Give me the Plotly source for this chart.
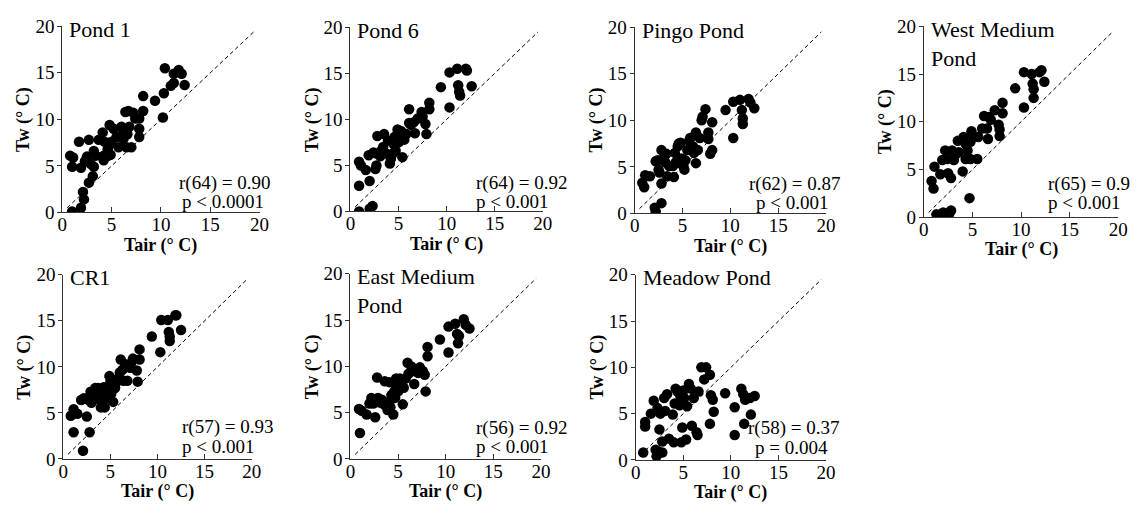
import plotly.graph_objects as go

W, H = 1145, 517

names = ["Pond 1", "Pond 6", "Pingo Pond", "West Medium<br>Pond", "CR1", "East Medium<br>Pond", "Meadow Pond"]
r_labels = ["r(64) = 0.90", "r(64) = 0.92", "r(62) = 0.87", "r(65) = 0.9", "r(57) = 0.93", "r(56) = 0.92", "r(58) = 0.37"]
p_labels = ["p < 0.0001", "p < 0.001", "p < 0.001", "p < 0.001", "p < 0.001", "p < 0.001", "p = 0.004"]
tick_vals = [0, 5, 10, 15, 20]
ref_line = [0.5, 19.5]

pond1_x = [1.0, 0.8, 1.1, 1.0, 1.7, 1.9, 2.1, 2.2, 1.9, 2.3, 2.7, 2.5, 2.7, 2.9, 3.2, 3.1, 3.2, 3.4, 3.7, 4.1,
           4.2, 4.2, 4.3, 4.6, 4.7, 4.8, 4.8, 5.0, 4.9, 5.2, 5.5, 5.7, 5.9, 6.0, 6.2, 6.4, 6.6, 6.5, 6.7, 6.8,
           7.0, 7.2, 7.4, 7.8, 7.8, 7.8, 8.2, 8.2, 9.4, 10.3, 10.4, 10.2, 11.0, 11.3, 11.3, 11.8, 12.1, 12.4]
pond1_y = [0.1, 6.1, 5.9, 4.9, 7.6, 4.8, 2.2, 1.4, 0.5, 5.5, 7.8, 6.0, 3.2, 5.2, 4.9, 3.9, 6.6, 6.1, 7.8, 8.6,
           6.1, 5.6, 7.6, 6.8, 6.1, 7.3, 9.4, 7.6, 6.2, 9.0, 8.1, 7.0, 8.2, 9.2, 7.9, 10.8, 8.4, 7.0, 10.9, 9.2,
           7.0, 10.7, 10.1, 10.1, 9.0, 8.1, 12.5, 10.9, 12.0, 12.8, 15.5, 10.2, 13.6, 13.9, 14.9, 15.3, 14.9, 13.7]

pond6_x = [0.9, 2.0, 2.3, 0.9, 0.9, 1.1, 1.6, 2.0, 1.9, 2.4, 2.6, 2.7, 2.7, 2.8, 3.1, 3.2, 3.4, 3.5, 3.7, 3.9,
           4.1, 4.2, 4.4, 4.5, 4.6, 4.7, 4.9, 5.0, 5.0, 5.3, 5.4, 5.6, 5.8, 6.1, 6.1, 6.3, 6.6, 6.7, 7.0, 7.4,
           7.5, 7.8, 7.9, 8.2, 8.2, 9.4, 10.3, 10.3, 11.1, 11.2, 11.3, 11.4, 12.0, 12.1, 12.6]
pond6_y = [0.0, 0.3, 0.6, 2.8, 5.4, 5.0, 4.5, 3.3, 6.1, 6.4, 4.6, 5.0, 6.3, 8.2, 6.0, 6.6, 7.0, 8.4, 6.3, 7.7,
           5.2, 5.7, 6.3, 7.3, 8.1, 6.6, 8.9, 7.5, 8.2, 8.7, 5.9, 7.8, 8.4, 9.6, 11.1, 9.4, 9.7, 8.5, 10.1, 10.8,
           10.3, 9.5, 8.4, 11.8, 11.1, 13.5, 15.1, 11.3, 15.5, 13.7, 13.0, 12.6, 15.5, 15.3, 13.6]

pingo_x = [0.8, 1.0, 1.1, 1.6, 2.1, 2.2, 2.2, 2.4, 2.5, 2.6, 2.8, 2.8, 2.8, 3.1, 3.2, 3.3, 3.4, 3.6, 4.0, 4.1,
           4.2, 4.3, 4.5, 4.6, 4.7, 4.8, 4.9, 5.1, 5.2, 5.3, 5.5, 5.7, 5.8, 6.0, 6.1, 6.2, 6.4, 6.4, 6.6, 6.8,
           7.0, 7.1, 7.4, 7.7, 7.7, 7.9, 8.1, 8.1, 9.5, 10.3, 10.3, 11.0, 11.2, 11.3, 11.3, 11.9, 12.1, 12.5]
pingo_y = [3.3, 2.8, 4.1, 4.0, 0.6, 0.2, 5.6, 5.7, 4.7, 4.4, 3.2, 1.1, 6.8, 6.1, 5.5, 6.4, 4.0, 5.1, 5.1, 3.9,
           6.5, 5.5, 7.2, 7.5, 5.4, 7.6, 5.9, 5.1, 4.7, 5.7, 6.8, 7.8, 8.1, 6.8, 7.2, 6.5, 5.4, 8.7, 6.8, 8.1,
           10.0, 10.4, 11.2, 8.7, 8.0, 6.4, 6.8, 9.8, 11.1, 8.1, 12.0, 12.2, 11.1, 10.2, 9.6, 12.3, 11.9, 11.3]

west_x = [0.8, 1.0, 1.1, 1.3, 1.5, 1.8, 2.0, 2.3, 2.6, 2.8, 1.7, 1.9, 2.2, 2.4, 2.5, 2.8, 2.9, 3.1, 3.3, 3.5,
          3.6, 4.0, 4.1, 4.3, 4.3, 4.5, 4.6, 4.7, 4.8, 4.9, 4.8, 5.1, 5.5, 5.6, 6.0, 6.2, 6.5, 6.6, 6.7, 6.9,
          7.3, 7.7, 7.8, 7.8, 8.1, 8.1, 9.4, 10.3, 10.3, 11.1, 11.2, 11.3, 11.3, 11.9, 12.1, 12.4]
west_y = [3.8, 3.0, 5.3, 0.3, 0.2, 0.3, 0.5, 0.3, 0.3, 0.7, 4.5, 6.0, 7.0, 6.1, 4.6, 4.1, 7.0, 6.0, 6.6, 8.0,
          6.8, 4.8, 8.4, 6.1, 7.7, 7.0, 8.1, 2.0, 7.9, 9.0, 6.1, 8.4, 6.1, 8.4, 9.3, 10.6, 9.3, 8.2, 10.5, 10.2,
          11.2, 9.7, 9.2, 8.5, 12.0, 10.9, 13.5, 15.2, 11.5, 15.0, 14.0, 13.4, 12.5, 15.2, 15.4, 14.2]

cr1_x = [0.8, 1.1, 1.1, 1.5, 2.1, 1.9, 2.2, 2.5, 2.7, 2.8, 2.9, 3.0, 3.2, 3.4, 3.6, 3.7, 3.9, 4.0, 4.2, 4.3,
         4.4, 4.6, 4.8, 4.9, 5.0, 5.1, 5.5, 5.3, 5.7, 5.8, 6.0, 6.1, 6.3, 6.4, 6.6, 6.8, 7.1, 7.2, 7.4, 7.8,
         7.9, 8.1, 8.1, 9.4, 10.4, 10.3, 11.1, 11.2, 11.3, 11.3, 11.9, 12.0, 12.5]
cr1_y = [4.7, 5.4, 2.9, 4.9, 0.9, 6.4, 6.6, 4.6, 6.4, 2.9, 7.3, 6.1, 6.6, 7.7, 7.0, 7.7, 6.4, 5.6, 7.0, 7.8,
         5.6, 6.6, 7.7, 9.0, 8.4, 7.1, 7.7, 6.2, 8.4, 8.7, 9.4, 10.8, 9.7, 8.5, 10.3, 8.5, 9.9, 10.4, 10.9, 9.6,
         8.4, 11.9, 10.8, 13.3, 15.1, 11.6, 15.1, 13.8, 13.3, 12.8, 15.6, 15.6, 14.0]

east_x = [0.9, 1.0, 1.2, 1.7, 2.0, 2.2, 2.4, 2.6, 2.7, 2.8, 2.9, 3.1, 3.3, 3.5, 3.6, 3.9, 4.1, 4.1, 4.2, 4.3,
          4.5, 4.6, 4.7, 4.8, 4.8, 5.0, 5.2, 5.5, 5.6, 5.8, 6.0, 6.1, 6.4, 6.6, 6.7, 7.1, 7.3, 7.6, 7.8, 7.9,
          8.1, 8.1, 9.4, 10.3, 10.3, 11.0, 11.2, 11.3, 11.4, 11.9, 12.1, 12.5]
east_y = [5.4, 2.8, 5.2, 4.8, 6.0, 6.6, 6.0, 4.5, 6.4, 8.8, 6.6, 6.1, 6.4, 5.9, 8.4, 5.3, 8.3, 6.2, 5.6, 6.9,
          4.8, 7.3, 6.6, 8.7, 8.0, 7.3, 8.7, 5.9, 7.7, 8.7, 10.4, 9.2, 10.0, 9.5, 8.1, 9.3, 9.9, 9.5, 9.1, 7.3,
          12.1, 11.1, 12.9, 14.3, 11.5, 14.6, 13.5, 12.5, 13.3, 15.1, 14.5, 14.1]

meadow_x = [0.8, 1.0, 1.0, 1.6, 1.9, 2.1, 2.2, 2.3, 2.4, 2.5, 2.6, 2.8, 2.8, 3.0, 3.1, 3.3, 3.5, 3.9, 4.0, 4.1,
            4.2, 4.4, 4.6, 4.7, 4.8, 4.9, 5.0, 5.1, 5.3, 5.4, 5.6, 5.8, 5.9, 6.1, 6.4, 6.5, 6.6, 6.9, 7.2, 7.4,
            7.8, 7.8, 7.9, 8.1, 8.2, 9.4, 10.4, 10.4, 11.1, 11.3, 11.4, 11.5, 12.0, 12.1, 12.5]
meadow_y = [0.8, 4.1, 3.6, 5.0, 6.4, 1.1, 0.4, 5.6, 0.9, 3.3, 5.0, 0.8, 2.0, 6.7, 5.3, 7.1, 2.3, 4.9, 1.9, 6.1,
            7.7, 7.4, 5.9, 6.9, 1.9, 3.5, 7.5, 6.7, 2.2, 5.8, 8.2, 7.7, 3.7, 6.7, 3.0, 2.7, 7.4, 10.0, 8.7, 10.0,
            9.2, 3.9, 7.0, 6.5, 5.2, 7.2, 5.7, 2.7, 7.7, 7.1, 3.9, 6.5, 6.7, 4.9, 6.9]

xs = [pond1_x, pond6_x, pingo_x, west_x, cr1_x, east_x, meadow_x]
ys = [pond1_y, pond6_y, pingo_y, west_y, cr1_y, east_y, meadow_y]

# pixel boxes of each panel plot area: (left, right, top, bottom)
boxes = [(58, 258, 17, 211), (350, 545, 18, 210), (638, 832, 18, 212), (931, 1128, 17, 216),
         (59, 250, 276, 468), (350, 543, 275, 468), (639, 832, 276, 469)]
# stats label placement in data units: (x_r, y_r, x_p, y_p, anchor)
stat_pos = [(16.4, 3.2, 16.3, 1.15, "center"), (12.8, 3.1, 12.8, 1.05, "left"),
            (16.7, 3.2, 16.4, 1.15, "center"), (12.6, 3.5, 12.6, 1.5, "left"),
            (12.4, 3.5, 12.4, 1.4, "left"), (12.95, 3.35, 12.95, 1.3, "left"),
            (16.6, 3.5, 16.4, 1.35, "center")]

SERIF = "Liberation Serif, Times New Roman, serif"

fig = go.Figure()
annotations = []
layout = dict(width=W, height=H, margin=dict(l=0, r=0, t=0, b=0),
              plot_bgcolor="white", paper_bgcolor="white", showlegend=False,
              font=dict(family=SERIF, color="black"))

for i in range(7):
    n = i + 1
    sfx = "" if n == 1 else str(n)
    L, R, T, B = boxes[i]
    xdom = [L / W, R / W]
    ydom = [1 - B / H, 1 - T / H]
    layout["xaxis" + sfx] = dict(domain=xdom, anchor="y" + sfx, range=[0, 20], tickvals=tick_vals,
                                 showline=True, linecolor="#333", linewidth=1, ticks="inside",
                                 ticklen=5, tickcolor="#333", showgrid=False, zeroline=False,
                                 ticklabelstandoff=-5,
                                 tickfont=dict(family=SERIF, size=19, color="black"))
    layout["yaxis" + sfx] = dict(domain=ydom, anchor="x" + sfx, range=[0, 20], tickvals=tick_vals,
                                 showline=True, linecolor="#333", linewidth=1, ticks="outside",
                                 ticklen=4, tickcolor="#333", showgrid=False, zeroline=False,
                                 ticklabelstandoff=-1,
                                 tickfont=dict(family=SERIF, size=19, color="black"))
    fig.add_trace(go.Scatter(x=ref_line, y=ref_line, mode="lines",
                             line=dict(color="black", width=1, dash="4px,3px"),
                             xaxis="x" + sfx, yaxis="y" + sfx, hoverinfo="skip"))
    fig.add_trace(go.Scatter(x=xs[i], y=ys[i], mode="markers",
                             marker=dict(color="black", size=10.5),
                             xaxis="x" + sfx, yaxis="y" + sfx))
    # panel title
    annotations.append(dict(text=names[i], xref="paper", yref="paper",
                            x=(L + 5) / W, y=1 - (T - 12) / H, xanchor="left", yanchor="top",
                            align="left", showarrow=False,
                            font=dict(family=SERIF, size=22, color="black")))
    # stats
    xr, yr, xp, yp, anc = stat_pos[i]
    annotations.append(dict(text=r_labels[i], xref="x" + sfx, yref="y" + sfx, x=xr, y=yr,
                            xanchor=anc, yanchor="middle", showarrow=False,
                            font=dict(family=SERIF, size=19, color="black")))
    annotations.append(dict(text=p_labels[i], xref="x" + sfx, yref="y" + sfx, x=xp, y=yp,
                            xanchor=anc, yanchor="middle", showarrow=False,
                            font=dict(family=SERIF, size=19, color="black")))
    # axis titles
    annotations.append(dict(text="<b>Tair (° C)</b>", xref="paper", yref="paper",
                            x=(L + R) / 2 / W, y=1 - (B + 34) / H, xanchor="center", yanchor="middle",
                            showarrow=False, font=dict(family=SERIF, size=18, color="black")))
    annotations.append(dict(text="<b>Tw (° C)</b>", xref="paper", yref="paper",
                            x=(L - 39) / W, y=1 - (T + B) / 2 / H, xanchor="center", yanchor="middle",
                            textangle=-90, showarrow=False,
                            font=dict(family=SERIF, size=18, color="black")))

layout["annotations"] = annotations
fig.update_layout(**layout)
fig.write_html("out.html")
